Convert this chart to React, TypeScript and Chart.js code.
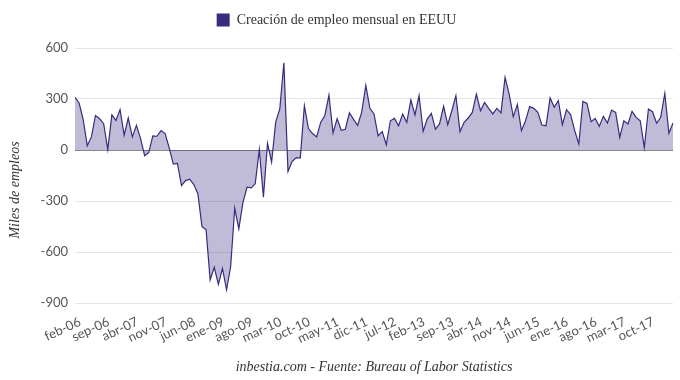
import React, { useEffect, useRef } from 'react';
import { Chart, registerables } from 'chart.js';

Chart.register(...registerables);

const MONTHS = ['ene', 'feb', 'mar', 'abr', 'may', 'jun', 'jul', 'ago', 'sep', 'oct', 'nov', 'dic'];
const START_YEAR = 2006;
const START_MONTH = 1; // feb

const jobs2006 = [310, 277, 178, 25, 77, 203, 184, 155, 2, 207, 174];
const jobs2007 = [238, 87, 188, 77, 145, 68, -33, -15, 83, 81, 114, 97];
const jobs2008 = [12, -83, -79, -209, -180, -172, -203, -257, -451, -470, -764, -690];
const jobs2009 = [-790, -697, -822, -687, -343, -464, -310, -219, -223, -199, 2, -277];
const jobs2010 = [39, -72, 164, 242, 513, -126, -68, -45, -48, 261, 126, 97];
const jobs2011 = [77, 164, 203, 323, 101, 184, 116, 122, 219, 180, 145, 223];
const jobs2012 = [380, 245, 212, 84, 108, 31, 172, 186, 143, 212, 163, 294];
const jobs2013 = [206, 320, 110, 182, 216, 123, 153, 257, 149, 231, 320, 108];
const jobs2014 = [163, 188, 221, 329, 231, 280, 245, 212, 245, 218, 427, 329];
const jobs2015 = [196, 267, 114, 172, 255, 245, 221, 147, 143, 306, 251, 290];
const jobs2016 = [149, 237, 208, 114, 35, 286, 274, 167, 186, 139, 198, 159];
const jobs2017 = [235, 221, 74, 172, 153, 227, 192, 172, 14, 241, 225, 157];
const jobs2018 = [192, 333, 98, 159];

const values = [
  ...jobs2006, ...jobs2007, ...jobs2008, ...jobs2009, ...jobs2010, ...jobs2011,
  ...jobs2012, ...jobs2013, ...jobs2014, ...jobs2015, ...jobs2016, ...jobs2017, ...jobs2018,
];

const categories = values.map((_, i) => {
  const m = (START_MONTH + i) % 12;
  const y = START_YEAR + Math.floor((START_MONTH + i) / 12);
  return `${MONTHS[m]}-${String(y % 100).padStart(2, '0')}`;
});

const LABEL_EVERY = 7;
const Y_MIN = -900;
const Y_MAX = 600;
const Y_STEP = 300;

const SERIES_NAME = 'Creación de empleo mensual en EEUU';
const Y_TITLE = 'Miles de empleos';
const X_TITLE = 'inbestia.com - Fuente: Bureau of Labor Statistics';

const LINE_COLOR = '#3b2a7e';
const FILL_COLOR = 'rgba(59,42,126,0.32)';

const yTitlePlugin = {
  id: 'yTitlePlugin',
  afterDraw(chart: any) {
    const { ctx } = chart;
    ctx.save();
    ctx.translate(15, 190);
    ctx.rotate(-Math.PI / 2);
    ctx.font = 'italic 14px "Liberation Serif"';
    ctx.fillStyle = '#333';
    ctx.textAlign = 'center';
    ctx.textBaseline = 'middle';
    ctx.fillText(Y_TITLE, 0, 0);
    ctx.restore();
  },
};

const legendSpacingPlugin = {
  id: 'legendSpacingPlugin',
  beforeInit(chart: any) {
    const legend = chart.legend;
    if (!legend) return;
    const origFit = legend.fit;
    legend.fit = function () {
      origFit.call(this);
      this.height += 11;
    };
  },
};

export default function App() {
  const ref = useRef<HTMLCanvasElement | null>(null);

  useEffect(() => {
    if (!ref.current) return;
    const chart = new Chart(ref.current, {
      type: 'line',
      data: {
        labels: categories,
        datasets: [
          {
            label: SERIES_NAME,
            data: values,
            borderColor: LINE_COLOR,
            backgroundColor: FILL_COLOR,
            borderWidth: 1.2,
            pointRadius: 0,
            pointHoverRadius: 0,
            fill: 'origin',
            tension: 0,
          },
        ],
      },
      options: {
        animation: false,
        responsive: true,
        maintainAspectRatio: false,
        layout: { padding: { left: 0, right: 7, top: 3, bottom: 0 } },
        plugins: {
          legend: {
            display: true,
            position: 'top',
            labels: {
              boxWidth: 13,
              boxHeight: 13,
              color: '#333',
              font: { family: '"Liberation Serif"', size: 14 },
              generateLabels: (chart: any) => {
                const items = Chart.defaults.plugins.legend.labels.generateLabels(chart);
                return items.map((it: any) => ({ ...it, fillStyle: LINE_COLOR, strokeStyle: LINE_COLOR, lineWidth: 0 }));
              },
            },
          },
          tooltip: { enabled: false },
        },
        scales: {
          x: {
            type: 'category',
            offset: false,
            grid: { display: false, drawTicks: false },
            border: { display: false },
            ticks: {
              autoSkip: false,
              minRotation: 25,
              maxRotation: 25,
              padding: 11,
              labelOffset: 5,
              color: '#555',
              font: { family: 'Lato', size: 13 },
              callback: (_v: any, i: number) => (i % LABEL_EVERY === 0 ? categories[i] : ''),
            },
            title: {
              display: true,
              text: X_TITLE,
              color: '#333',
              font: { family: '"Liberation Serif"', size: 14, style: 'italic' },
              padding: { top: 0, bottom: 4 },
            },
            afterFit: (scale: any) => {
              scale.height = 77;
              scale.paddingLeft = 0;
              scale.paddingRight = 0;
            },
          },
          y: {
            min: Y_MIN,
            max: Y_MAX,
            grid: {
              drawTicks: false,
              color: (c: any) => (c.tick && c.tick.value === 0 ? '#888' : '#e6e6e6'),
              lineWidth: 1,
            },
            border: { display: false },
            ticks: {
              stepSize: Y_STEP,
              padding: 7,
              color: '#555',
              font: { family: 'Lato', size: 13 },
            },
            afterFit: (scale: any) => {
              scale.width = 75;
            },
          },
        },
      },
      plugins: [yTitlePlugin, legendSpacingPlugin],
    });
    return () => chart.destroy();
  }, []);

  return (
    <div style={{ position: 'absolute', left: 0, top: 0, width: 680, height: 380 }}>
      <canvas ref={ref} />
    </div>
  );
}
